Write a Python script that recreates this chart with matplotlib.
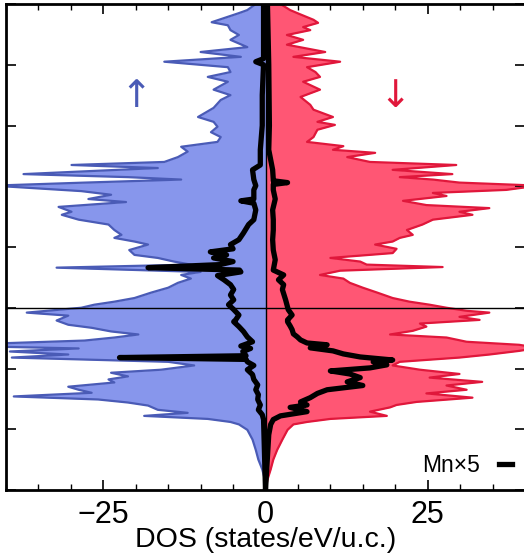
import matplotlib
matplotlib.use("Agg")
import matplotlib.pyplot as plt
import numpy as np
from matplotlib.ticker import MultipleLocator

plt.rcParams['font.family'] = ['Liberation Sans', 'DejaVu Sans']

# ---------------- data ----------------
# total DOS, spin up (magnitude, drawn on the negative side)
e_up = [5.00, 4.90, 4.85, 4.70, 4.65, 4.57, 4.49, 4.41, 4.29, 4.21, 4.13, 4.05, 3.96, 3.88,
        3.80, 3.72, 3.59, 3.50, 3.42, 3.29, 3.14, 3.06, 2.98, 2.89, 2.81, 2.73, 2.65, 2.57,
        2.48, 2.40, 2.35, 2.30, 2.20, 2.15, 2.11, 2.06, 2.01, 1.92, 1.86, 1.79, 1.74, 1.66,
        1.58, 1.53, 1.45, 1.37, 1.28, 1.20, 1.15, 1.09, 1.04, 0.95, 0.87, 0.82, 0.76, 0.71,
        0.66, 0.59, 0.54, 0.48, 0.41, 0.33, 0.25, 0.16, 0.10, 0.05, 0.00, -0.08, -0.13,
        -0.21, -0.28, -0.33, -0.39, -0.44, -0.49, -0.54, -0.59, -0.64, -0.67, -0.72, -0.77,
        -0.82, -0.89, -0.95, -1.02, -1.07, -1.13, -1.18, -1.23, -1.30, -1.35, -1.40, -1.46,
        -1.51, -1.56, -1.61, -1.68, -1.73, -1.78, -1.83, -1.88, -1.92, -2.01, -2.17, -2.34,
        -2.50, -2.66, -2.83, -3.00]
dos_up = [1.5, 2.8, 4.1, 8.3, 5.8, 5.4, 4.1, 5.4, 2.8, 10.0, 3.8, 15.6, 5.8, 5.4,
          8.9, 5.8, 8.0, 5.4, 6.9, 8.0, 10.4, 8.0, 7.4, 8.4, 6.9, 7.4, 13.0, 12.0,
          13.5, 15.6, 29.9, 16.6, 37.3, 21.2, 13.0, 27.9, 42.0, 28.4, 23.8, 27.3, 21.5, 31.9,
          29.9, 31.4, 28.8, 24.2, 23.3, 22.2, 23.3, 20.2, 18.1, 21.0, 20.2, 16.6, 14.1, 11.5,
          32.2, 10.0, 13.0, 11.5, 13.5, 15.0, 17.6, 20.2, 23.3, 26.4, 28.4, 36.8, 30.4,
          32.2, 30.4, 26.8, 23.8, 19.6, 23.3, 27.9, 42.0, 42.0, 28.8, 39.4, 30.4,
          39.1, 15.0, 11.0, 16.1, 23.8, 21.2, 24.2, 23.3, 30.4, 28.8, 26.8, 38.8,
          25.8, 21.2, 18.1, 16.6, 12.0, 18.7, 8.9, 5.4, 4.1, 2.8, 2.0, 1.5,
          1.1, 0.5, 0.1, 0.0]

# total DOS, spin down (positive side)
e_dn = [5.00, 4.90, 4.85, 4.74, 4.69, 4.62, 4.57, 4.49, 4.41, 4.33, 4.21, 4.13, 4.05, 3.96,
        3.88, 3.80, 3.72, 3.59, 3.47, 3.34, 3.26, 3.14, 3.06, 3.01, 2.93, 2.81, 2.73, 2.66,
        2.60, 2.55, 2.48, 2.40, 2.35, 2.27, 2.20, 2.15, 2.11, 2.06, 2.01, 1.94, 1.89, 1.84,
        1.76, 1.69, 1.64, 1.58, 1.53, 1.45, 1.37, 1.28, 1.20, 1.15, 1.09, 1.04, 0.97, 0.90,
        0.82, 0.76, 0.71, 0.67, 0.61, 0.54, 0.48, 0.41, 0.33, 0.25, 0.16, 0.10, 0.05, 0.00,
        -0.05, -0.08, -0.15, -0.20, -0.26, -0.31, -0.38, -0.44, -0.49, -0.56, -0.61, -0.66,
        -0.71, -0.77, -0.82, -0.89, -0.95, -1.02, -1.09, -1.15, -1.22, -1.28, -1.35, -1.41,
        -1.48, -1.55, -1.60, -1.64, -1.71, -1.78, -1.83, -1.88, -1.92, -2.01, -2.17, -2.34,
        -2.50, -2.66, -2.83, -3.00]
dos_dn = [2.3, 3.8, 4.9, 7.4, 8.1, 5.8, 6.9, 3.3, 5.8, 3.3, 9.2, 4.3, 11.5, 6.4,
          7.7, 8.4, 5.8, 8.4, 5.4, 6.9, 7.4, 10.4, 8.0, 10.7, 8.0, 7.4, 6.4, 12.0,
          10.4, 16.9, 12.6, 16.1, 29.4, 19.6, 28.8, 20.7, 25.8, 29.9, 42.0, 37.1, 25.8, 27.9,
          21.2, 24.8, 34.5, 29.9, 31.9, 25.8, 24.2, 21.8, 22.7, 20.7, 19.6, 16.9, 20.2, 19.6,
          10.0, 14.6, 15.6, 27.3, 11.5, 8.4, 12.0, 13.0, 15.0, 17.2, 19.6, 22.2, 25.3, 27.9,
          31.0, 34.5, 29.9, 33.0, 23.8, 24.8, 22.7, 19.2, 27.9, 31.0, 39.1, 42.0,
          39.1, 34.5, 29.9, 20.7, 19.6, 23.8, 29.9, 25.3, 33.4, 27.9, 31.0, 24.8,
          31.9, 23.3, 20.2, 19.2, 16.1, 18.7, 10.0, 6.4, 4.3, 3.4, 2.6, 1.8,
          1.2, 0.8, 0.3, 0.0]

# Mn projected DOS x5, spin up (magnitude, negative side)
e_mn_up = [5.00, 4.10, 4.05, 4.00, 3.50, 3.00, 2.60, 2.35, 2.27, 2.11, 2.01, 1.94, 1.79,
           1.76, 1.72, 1.61, 1.45, 1.37, 1.23, 1.12, 1.04, 0.97, 0.92, 0.87, 0.82, 0.76,
           0.71, 0.66, 0.62, 0.59, 0.53, 0.46, 0.38, 0.30, 0.21, 0.13, 0.05, -0.03, -0.12,
           -0.20, -0.23, -0.31, -0.39, -0.48, -0.56, -0.63, -0.67, -0.72, -0.79, -0.82,
           -0.85, -0.89, -0.95, -1.02, -1.10, -1.18, -1.27, -1.35, -1.43, -1.51, -1.60,
           -1.68, -1.76, -1.84, -3.00]
mn_up = [0.3, 0.3, 1.5, 0.3, 0.5, 0.5, 0.8, 0.8, 2.0, 1.8, 1.5, 1.8, 1.8,
         3.8, 1.8, 1.5, 1.8, 2.6, 3.4, 4.1, 5.4, 5.0, 8.5, 6.0, 8.0, 5.0,
         7.0, 18.1, 4.0, 3.8, 7.4, 6.4, 5.4, 4.9, 5.4, 4.9, 5.7, 4.9, 4.1,
         4.6, 4.9, 4.1, 3.4, 2.8, 2.0, 3.8, 2.3, 3.5, 3.0, 22.5,
         3.0, 2.8, 1.8, 2.8, 2.0, 1.8, 1.2, 1.5, 1.1, 1.2, 0.8,
         1.1, 0.5, 0.3, 0.0]

# Mn projected DOS x5, spin down (positive side)
e_mn_dn = [5.00, 4.00, 3.00, 2.60, 2.27, 2.11, 2.09, 2.06, 2.03, 1.94, 1.79, 1.61, 1.45,
           1.28, 1.12, 0.95, 0.79, 0.62, 0.54, 0.46, 0.38, 0.30, 0.13, -0.03, -0.12, -0.20,
           -0.23, -0.30, -0.36, -0.43, -0.48, -0.53, -0.58, -0.61, -0.66, -0.71, -0.76,
           -0.81, -0.86, -0.89, -0.94, -0.99, -1.04, -1.09, -1.15, -1.22, -1.28, -1.35,
           -1.41, -1.48, -1.55, -1.60, -1.64, -1.71, -1.78, -1.84, -1.92, -2.09, -3.00]
mn_dn = [0.3, 0.5, 0.6, 0.5, 1.1, 1.2, 1.2, 3.4, 1.2, 1.2, 1.5, 1.1, 1.2,
         1.2, 1.1, 1.2, 1.5, 1.2, 2.8, 2.0, 2.8, 2.6, 3.1, 3.5, 4.1, 3.4,
         3.4, 3.8, 4.1, 4.3, 4.9, 5.4, 6.4, 9.5, 6.9, 10.4, 12.0,
         14.6, 19.6, 16.6, 18.7, 16.1, 10.0, 13.0, 14.6, 12.6, 15.0, 9.5,
         8.0, 6.9, 5.4, 6.4, 3.8, 6.4, 2.3, 1.2, 0.8, 0.5, 0.0]

x_ticks = [-25, 0, 25]
x_tick_labels = ['\u221225', '0', '25']
legend_label = 'Mn\u00d75'
xlabel = 'DOS (states/eV/u.c.)'

# ---------------- drawing ----------------
blue_fill = '#8796ec'
blue_edge = '#4a5bb6'
red_fill = '#ff5674'
red_edge = '#e0173b'

fig = plt.figure(figsize=(5.24, 5.58), dpi=100)
ax = fig.add_axes([6 / 524, 68 / 558, 519 / 524, 486 / 558])

up_neg = -np.asarray(dos_up)
ax.fill_betweenx(e_up, up_neg, 0, color=blue_fill, lw=0, zorder=1)
ax.fill_betweenx(e_dn, dos_dn, 0, color=red_fill, lw=0, zorder=1)
ax.plot(up_neg, e_up, color=blue_edge, lw=1.6, zorder=2)
ax.plot(dos_dn, e_dn, color=red_edge, lw=1.6, zorder=2)

ax.plot(-np.asarray(mn_up), e_mn_up, color='black', lw=3.8, zorder=4,
        solid_joinstyle='round', label=legend_label)
ax.plot(mn_dn, e_mn_dn, color='black', lw=3.8, zorder=4, solid_joinstyle='round')

ax.axhline(0, color='black', lw=1.0, zorder=5)
ax.axvline(0, color='black', lw=1.0, zorder=3)

ax.text(-20, 3.47, '\u2191', color='#4a5bb6', fontsize=27, ha='center', va='center',
        family=['DejaVu Sans'])
ax.text(20, 3.47, '\u2193', color='#e0173b', fontsize=27, ha='center', va='center',
        family=['DejaVu Sans'])

ax.set_xlim(-40, 40)
ax.set_ylim(-3, 5)
ax.set_xticks(x_ticks)
ax.set_xticklabels(x_tick_labels)
ax.xaxis.set_minor_locator(MultipleLocator(5))
ax.yaxis.set_major_locator(MultipleLocator(1))
ax.tick_params(axis='both', which='both', direction='in', top=True, right=True)
ax.tick_params(axis='x', which='major', length=7, width=1.2, labelsize=22, pad=7)
ax.tick_params(axis='x', which='minor', length=4, width=1.0)
ax.tick_params(axis='y', which='major', length=7, width=1.2, labelleft=False)
for s in ax.spines.values():
    s.set_linewidth(2.0)

ax.set_xlabel(xlabel, fontsize=20.5, labelpad=-2)

leg = ax.legend(loc='lower right', frameon=False, markerfirst=False, fontsize=16.5,
                handlelength=0.6, handletextpad=0.8, borderaxespad=0.15)

fig.savefig('out.png', dpi=100)
